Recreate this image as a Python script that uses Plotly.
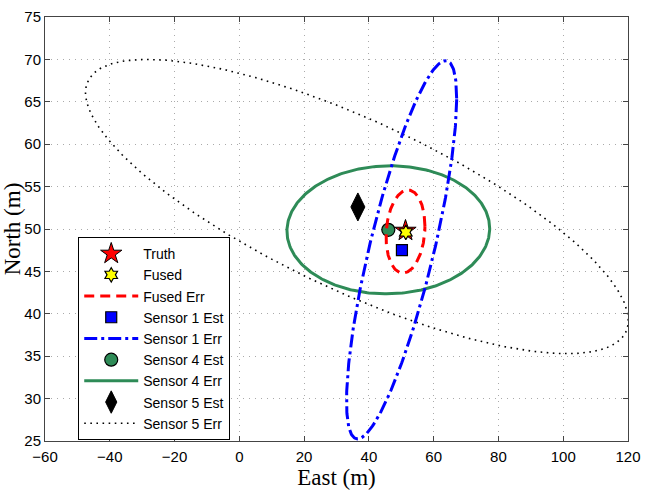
import numpy as np
import plotly.graph_objects as go

# Point estimates (East, North) in metres
truth = [51.3, 49.8]
fused = [51.4, 49.6]
sensor1_est = [50.2, 47.5]
sensor4_est = [46.0, 49.9]
sensor5_est = [36.6, 52.6]

# Error ellipses: centre, half-extent in East, half-extent in North, correlation
fused_err = dict(center=[51.3, 49.7], sx=6.0, sy=4.9, rho=0.13)
sensor1_err = dict(center=[50.1, 47.55], sx=17.0, sy=22.3, rho=0.8)
sensor4_err = dict(center=[46.0, 49.9], sx=31.3, sy=7.55, rho=0.02)
sensor5_err = dict(center=[36.3, 52.65], sx=83.8, sy=17.35, rho=-0.774)

x_ticks = [-60, -40, -20, 0, 20, 40, 60, 80, 100, 120]
y_ticks = [25, 30, 35, 40, 45, 50, 55, 60, 65, 70, 75]


def ellipse(p, n=361):
    t = np.linspace(0, 2 * np.pi, n)
    cx, cy = p["center"]
    x = cx + p["sx"] * np.cos(t)
    y = cy + p["sy"] * (p["rho"] * np.cos(t) + np.sqrt(1 - p["rho"] ** 2) * np.sin(t))
    return x, y


GREEN = "#2E8B57"
fig = go.Figure()

# drawing order (bottom to top); legendrank gives the legend order
ex, ey = ellipse(sensor5_err)
fig.add_trace(go.Scatter(x=ex, y=ey, mode="lines", name="Sensor 5 Err", legendrank=9,
                         line=dict(color="black", width=1.6, dash="1.6px,4.5px")))
ex, ey = ellipse(sensor4_err)
fig.add_trace(go.Scatter(x=ex, y=ey, mode="lines", name="Sensor 4 Err", legendrank=7,
                         line=dict(color=GREEN, width=3)))
fig.add_trace(go.Scatter(x=[sensor4_est[0]], y=[sensor4_est[1]], mode="markers",
                         name="Sensor 4 Est", legendrank=6,
                         marker=dict(symbol="circle", size=13, color=GREEN,
                                     line=dict(color="black", width=1.2))))
ex, ey = ellipse(sensor1_err)
fig.add_trace(go.Scatter(x=ex, y=ey, mode="lines", name="Sensor 1 Err", legendrank=5,
                         line=dict(color="blue", width=3, dash="13px,4px,3px,4px")))
ex, ey = ellipse(fused_err)
fig.add_trace(go.Scatter(x=ex, y=ey, mode="lines", name="Fused Err", legendrank=3,
                         line=dict(color="red", width=3, dash="10px,6px")))
fig.add_trace(go.Scatter(x=[sensor1_est[0]], y=[sensor1_est[1]], mode="markers",
                         name="Sensor 1 Est", legendrank=4,
                         marker=dict(symbol="square", size=11, color="blue",
                                     line=dict(color="black", width=1.2))))
fig.add_trace(go.Scatter(x=[sensor5_est[0]], y=[sensor5_est[1]], mode="markers",
                         name="Sensor 5 Est", legendrank=8,
                         marker=dict(symbol="diamond-tall", size=20, color="black",
                                     line=dict(color="black", width=1))))
fig.add_trace(go.Scatter(x=[truth[0]], y=[truth[1]], mode="markers",
                         name="Truth", legendrank=1,
                         marker=dict(symbol="star", size=16, color="red",
                                     line=dict(color="black", width=1))))
fig.add_trace(go.Scatter(x=[fused[0]], y=[fused[1]], mode="markers",
                         name="Fused", legendrank=2,
                         marker=dict(symbol="hexagram", size=11, color="yellow",
                                     line=dict(color="black", width=1.2))))

axis_common = dict(
    showline=True, linecolor="#444", linewidth=1, mirror="ticks",
    ticks="inside", ticklen=5, tickcolor="#444",
    showgrid=True, gridcolor="#aaa", griddash="1px,5px", gridwidth=1,
    zeroline=False, automargin=False,
    tickfont=dict(family="Liberation Sans, Arial, sans-serif", size=15, color="black"),
)

fig.update_xaxes(range=[-60, 120], tickvals=x_ticks,
                 ticktext=[str(v).replace("-", "\u2212") for v in x_ticks],
                 ticklabelstandoff=2,
                 title=dict(text="East (m)", standoff=4,
                            font=dict(family="Liberation Serif, Times New Roman, serif",
                                      size=23, color="black")),
                 **axis_common)
fig.update_yaxes(range=[25, 75], tickvals=y_ticks,
                 title=dict(text="North (m)", standoff=4,
                            font=dict(family="Liberation Serif, Times New Roman, serif",
                                      size=23, color="black")),
                 **axis_common)

fig.update_layout(
    width=645, height=491,
    margin=dict(l=45, r=17, t=17, b=50),
    plot_bgcolor="white", paper_bgcolor="white",
    legend=dict(x=0.057, y=0.481, xanchor="left", yanchor="top",
                bgcolor="white", bordercolor="black", borderwidth=1,
                itemwidth=54, tracegroupgap=0,
                font=dict(family="Liberation Sans, Arial, sans-serif", size=14,
                          color="black")),
    showlegend=True,
)

fig.write_html("out.html")
